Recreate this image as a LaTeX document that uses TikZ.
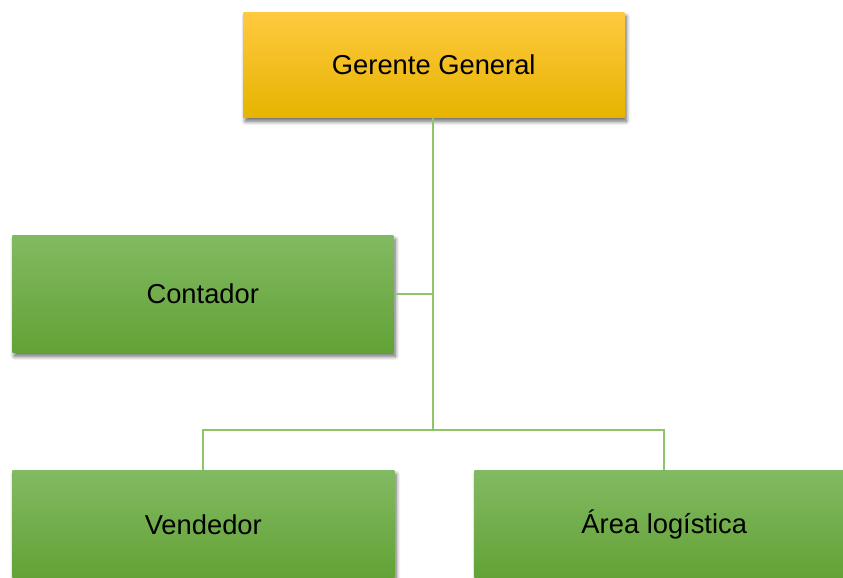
\documentclass[tikz,border=0pt]{standalone}
\usepackage{fontspec}
\setmainfont{Liberation Sans}
\usetikzlibrary{shadows.blur,positioning}
\definecolor{goldtop}{HTML}{FFC940}
\definecolor{goldmid}{HTML}{FFC000}
\definecolor{goldbot}{HTML}{E6B400}
\definecolor{greentop}{HTML}{82BA62}
\definecolor{greenmid}{HTML}{6DB041}
\definecolor{greenbot}{HTML}{62A236}
\definecolor{linegreen}{HTML}{8CC56A}
\tikzset{
  box/.style={rectangle, draw=none, anchor=north west, inner sep=0pt,
    font=\fontsize{20.5pt}{24pt}\selectfont, text=black,
    blur shadow={shadow xshift=1.5pt, shadow yshift=-3pt, shadow blur steps=6, shadow blur radius=3pt, shadow opacity=60}},
  goldbox/.style={box, shading=axis, top color=goldtop, middle color=goldmid, bottom color=goldbot},
  greenbox/.style={box, shading=axis, top color=greentop, middle color=greenmid, bottom color=greenbot},
  conn/.style={draw=linegreen, line width=1.5pt}
}
\begin{document}
\begin{tikzpicture}[x=0.75pt,y=-0.75pt]
\useasboundingbox (0,0) rectangle (843,578);
\node[goldbox, minimum width=381*0.75pt, minimum height=105*0.75pt] (gg) at (243,12) {Gerente General};
\node[greenbox, minimum width=381*0.75pt, minimum height=117*0.75pt] (cont) at (12,235) {Contador};
\node[greenbox, minimum width=382*0.75pt, minimum height=108*0.75pt] (vend) at (12,470) {Vendedor};
\node[greenbox, minimum width=380*0.75pt, minimum height=108*0.75pt] (area) at (474,470) {Área logística};
\coordinate (junc) at (433,430);
\coordinate (jl) at (vend.north |- junc);
\coordinate (jr) at (area.north |- junc);
\draw[conn] (gg.south -| junc) -- (junc);
\draw[conn] (cont.east) -- (cont.east -| junc);
\draw[conn] (vend.north) -- (jl) -- (jr) -- (area.north);
\end{tikzpicture}
\end{document}
